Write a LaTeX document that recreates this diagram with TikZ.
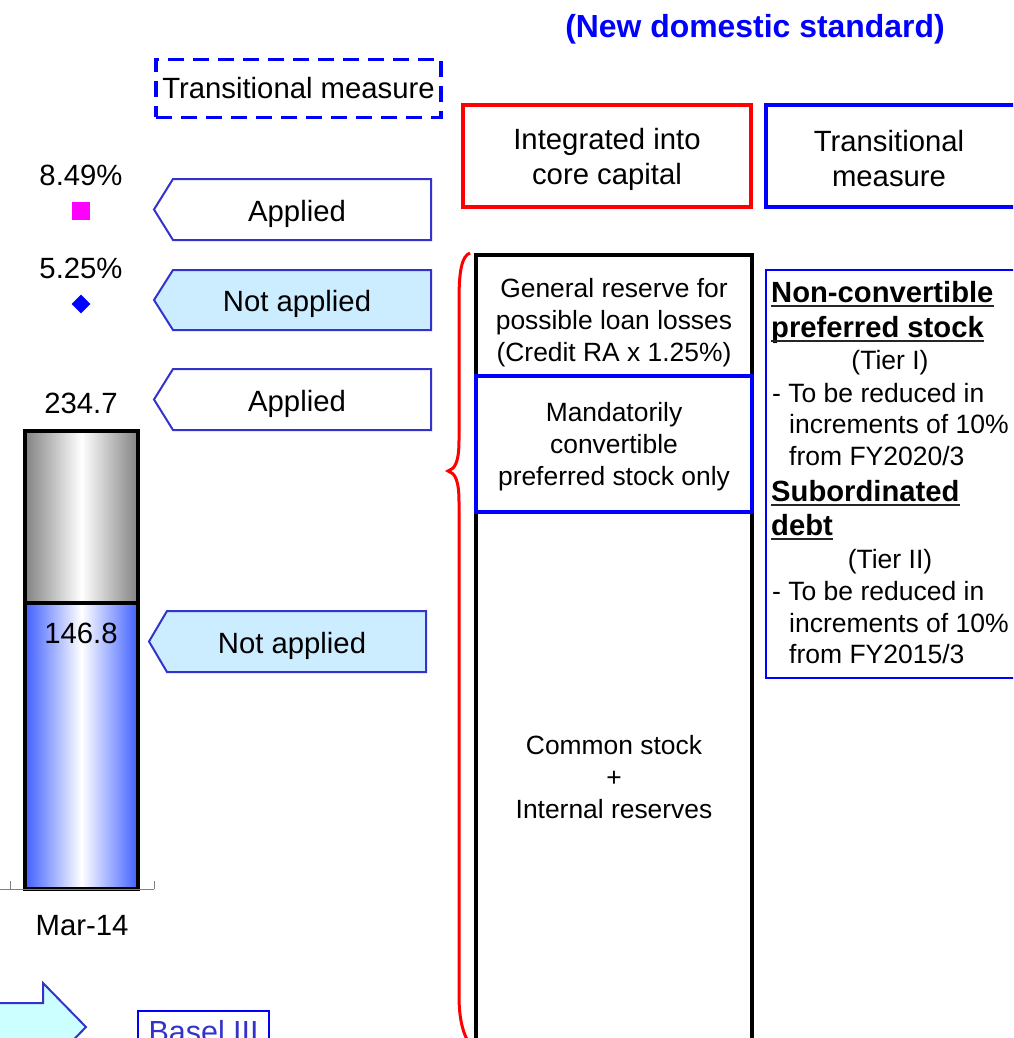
\documentclass[tikz,border=0pt]{standalone}
\usepackage{fontspec}
\setmainfont{Liberation Sans}
\usetikzlibrary{shapes.geometric}
\definecolor{pblue}{RGB}{0,0,255}
\definecolor{lblue}{RGB}{51,51,204}
\definecolor{pmagenta}{RGB}{255,0,255}
\definecolor{skyfill}{RGB}{204,236,255}
\definecolor{cyanfill}{RGB}{204,255,255}
\definecolor{barblue}{RGB}{64,96,255}
\definecolor{bargray}{RGB}{130,130,130}
\begin{document}
\begin{tikzpicture}[x=1pt, y=-1pt,
  lbl/.style={font=\fontsize{29.3}{35}\selectfont, inner sep=0pt, align=center},
  coltxt/.style={font=\fontsize{26.4}{32}\selectfont, inner sep=0pt, align=center},
  note/.style={font=\fontsize{26.5}{32}\selectfont, inner sep=0pt, anchor=base west},
  hd/.style={font=\bfseries\fontsize{29.2}{32}\selectfont, inner sep=0pt, anchor=base west},
  tagbox/.style={draw=lblue, line width=2pt},
  uline/.style={line width=1.8pt, black!85}]
  \useasboundingbox (0,0) rectangle (1013,1038);
  \clip (0,0) rectangle (1013,1038);

  % headings
  \node[font=\bfseries\fontsize{31.9}{36}\selectfont, text=pblue, inner sep=0pt, anchor=base] (title) at (755,38) {(New domestic standard)};
  \node[lbl, draw=pblue, line width=3.5pt, dash pattern=on 16pt off 9pt, minimum width=285pt, minimum height=58pt] (transbox) at (298.5,88.5) {Transitional measure};
  \node[draw=red, line width=4pt, minimum width=288pt, minimum height=102pt] (core) at (607,156) {};
  \node[lbl] (coretxt) at ([yshift=-3pt]core.center) {Integrated into\\core capital};
  \node[draw=pblue, line width=4pt, minimum width=252pt, minimum height=102pt] (transhd) at (892,156) {};
  \node[lbl] (transtxt) at ([xshift=-3pt, yshift=-3pt]transhd.center) {Transitional\\measure};

  % ratios and bar
  \node[lbl, anchor=base] (r849) at (81,185) {8.49\%};
  \node[fill=pmagenta, minimum size=18pt, inner sep=0pt] (sq) at (81,211) {};
  \node[lbl, anchor=base] (r525) at (81,278) {5.25\%};
  \node[diamond, fill=pblue, minimum size=19pt, inner sep=0pt] (dm) at (81,304) {};
  \node[lbl, anchor=base] (tot) at (81,413) {234.7};
  \shade[left color=bargray, right color=bargray, middle color=white] (25,431) rectangle (138,603);
  \shade[left color=barblue, right color=barblue, middle color=white] (25,603) rectangle (138,889);
  \draw[line width=4pt] (25,431) rectangle (138,889);
  \draw[line width=4pt] (25,603) -- (138,603);
  \node[lbl, anchor=base] (cet1) at (81,643) {146.8};
  \draw[gray, line width=1pt] (0,889) -- (154,889);
  \draw[gray, line width=1pt] (10,881) -- (10,889);
  \draw[gray, line width=1pt] (154,881) -- (154,889);
  \node[lbl, anchor=base] (date) at (82,935) {Mar-14};

  % applied / not applied tags
  \draw[tagbox, fill=white] (431,179) -- (173,179) -- (154,209.5) -- (173,240) -- (431,240) -- cycle;
  \node[lbl, anchor=base] (ap1) at (297,221) {Applied};
  \draw[tagbox, fill=skyfill] (431,270) -- (173,270) -- (154,300) -- (173,330) -- (431,330) -- cycle;
  \node[lbl, anchor=base] (na1) at (297,311) {Not applied};
  \draw[tagbox, fill=white] (431,369) -- (173,369) -- (154,399.5) -- (173,430) -- (431,430) -- cycle;
  \node[lbl, anchor=base] (ap2) at (297,411) {Applied};
  \draw[tagbox, fill=skyfill] (426,611) -- (167,611) -- (149,641.5) -- (167,672) -- (426,672) -- cycle;
  \node[lbl, anchor=base] (na2) at (292,653) {Not applied};

  % bottom arrow and label
  \draw[tagbox, fill=cyanfill] (-10,1003) -- (43,1003) -- (43,983) -- (86,1027) -- (43,1071) -- (43,1051) -- (-10,1051) -- cycle;
  \node[lbl, font=\fontsize{30.5}{35}\selectfont, draw=pblue, line width=2pt, text=lblue, inner xsep=10.5pt, inner ysep=9pt, anchor=north west] (basel) at (137,1010) {Basel III};

  % brace
  \draw[red, line width=3pt] (470,253) .. controls (462,256) and (459,270) .. (459,300)
    -- (459,440) .. controls (459,462) and (455,469) .. (448,471)
    .. controls (455,473) and (459,480) .. (459,502)
    -- (459,995) .. controls (459,1020) and (463,1035) .. (472,1048);

  % core capital column
  \draw[line width=4pt] (476,255) rectangle (752,1080);
  \draw[pblue, line width=4pt] (476,376) rectangle (752,512);
  \node[coltxt] (genres) at (614,323) {General reserve for\\possible loan losses\\(Credit RA x 1.25\%)};
  \node[coltxt] (mandpref) at (614,447) {Mandatorily\\convertible\\preferred stock only};
  \node[coltxt] (common) at (614,777) {Common stock\\+\\Internal reserves};

  % transitional items
  \draw[pblue, line width=2pt] (766,270) rectangle (1020,678);
  \node[hd] (ncp1) at (771,302) {Non-convertible};
  \node[hd] (ncp2) at (771,337) {preferred stock};
  \draw[uline] ([yshift=-4pt]ncp1.base west) -- ([yshift=-4pt]ncp1.base east);
  \draw[uline] ([yshift=-4pt]ncp2.base west) -- ([yshift=-4pt]ncp2.base east);
  \node[note, anchor=base] (tier1) at (890,369) {(Tier I)};
  \node[note] (red1) at (772,402) {- To be reduced in};
  \node[note] (inc1) at (789,433) {increments of 10\%};
  \node[note] (from1) at (789,465) {from FY2020/3};
  \node[hd] (sub1) at (771,501) {Subordinated};
  \node[hd] (sub2) at (771,535) {debt};
  \draw[uline] ([yshift=-4pt]sub1.base west) -- ([yshift=-4pt]sub1.base east);
  \draw[uline] ([yshift=-4pt]sub2.base west) -- ([yshift=-4pt]sub2.base east);
  \node[note, anchor=base] (tier2) at (890,568) {(Tier II)};
  \node[note] (red2) at (772,600) {- To be reduced in};
  \node[note] (inc2) at (789,632) {increments of 10\%};
  \node[note] (from2) at (789,663) {from FY2015/3};
\end{tikzpicture}
\end{document}
